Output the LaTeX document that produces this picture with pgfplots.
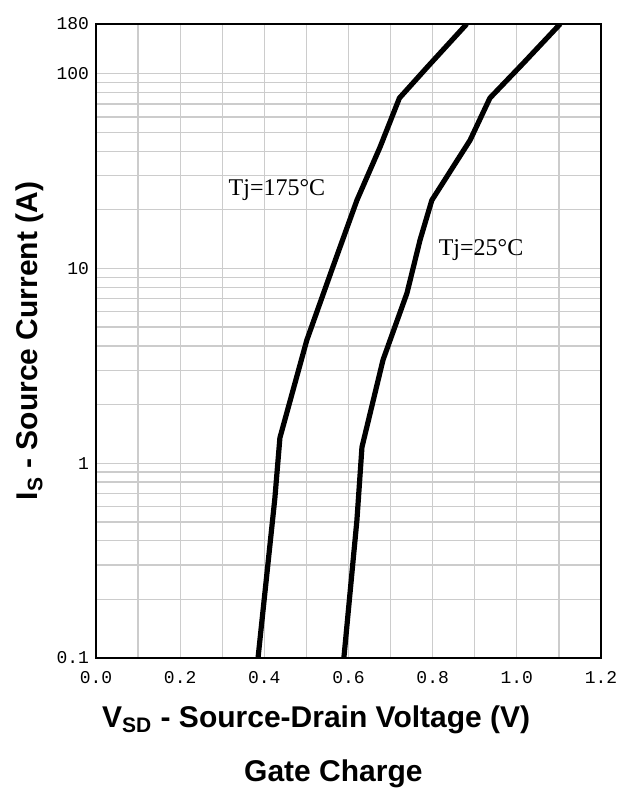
\documentclass[border=0pt]{standalone}
\usepackage{fontspec}
\usepackage{pgfplots}
\pgfplotsset{compat=1.18}
\setmainfont{Liberation Sans}
\newfontfamily\monofont{Liberation Mono}
\newfontfamily\seriffont{Liberation Serif}

\begin{document}
\begin{tikzpicture}
\begin{axis}[
  at={(0,0)}, anchor=south west,
  scale only axis,
  width=252.5pt, height=317pt,
  xmin=0, xmax=1.2,
  ymode=log, ymin=0.1, ymax=180,
  xtick={0,0.2,0.4,0.6,0.8,1.0,1.2},
  xticklabels={0.0,0.2,0.4,0.6,0.8,1.0,1.2},
  minor xtick={0.1,0.3,0.5,0.7,0.9,1.1},
  ytick={0.1,1,10,100,180},
  yticklabels={0.1,1,10,100,180},
  minor ytick={0.2,0.3,0.4,0.5,0.6,0.7,0.8,0.9,2,3,4,5,6,7,8,9,20,30,40,50,60,70,80,90},
  grid=both,
  major grid style={gray!40, line width=0.65pt},
  minor grid style={gray!40, line width=0.65pt},
  major tick length=0pt, minor tick length=0pt,
  axis line style={black, line width=1pt},
  /pgf/number format/assume math mode=true,
  ticklabel style={font=\monofont\fontsize{9}{10}\selectfont},
  xticklabel style={yshift=-3pt},
  label style={font=\fontsize{15}{18}\selectfont\bfseries},
  xlabel={V\textsubscript{SD} - Source-Drain Voltage (V)},
  xlabel style={at={(axis description cs:0.436,-0.1104)}, anchor=base},
  ylabel={I\textsubscript{S} - Source Current (A)},
  ylabel style={at={(axis description cs:-0.1307,0.5)}, anchor=center},
]
\addplot[black, line width=2.6pt, line join=round] coordinates {
  (0.385,0.1) (0.425,0.66) (0.437,1.35) (0.501,4.29) (0.563,10.2)
  (0.620,22.4) (0.675,42.0) (0.721,75) (0.787,108) (0.881,180)
};
\addplot[black, line width=2.6pt, line join=round] coordinates {
  (0.589,0.1) (0.620,0.51) (0.632,1.21) (0.682,3.39) (0.739,7.48)
  (0.770,14.0) (0.798,22.4) (0.889,45.6) (0.936,75) (1.015,113) (1.103,180)
};
\node[font=\seriffont\fontsize{12}{14}\selectfont] at (axis cs:0.430,25.2) {Tj=175°C};
\node[font=\seriffont\fontsize{12}{14}\selectfont] at (axis cs:0.915,12.4) {Tj=25°C};
\end{axis}
\node[anchor=base, font=\fontsize{15}{18}\selectfont\bfseries] at (118.7pt,-61.5pt) {Gate Charge};
\pgfresetboundingbox
\path[use as bounding box] (-48pt,-66.5pt) rectangle (273.5pt,329pt);
\end{tikzpicture}
\end{document}
